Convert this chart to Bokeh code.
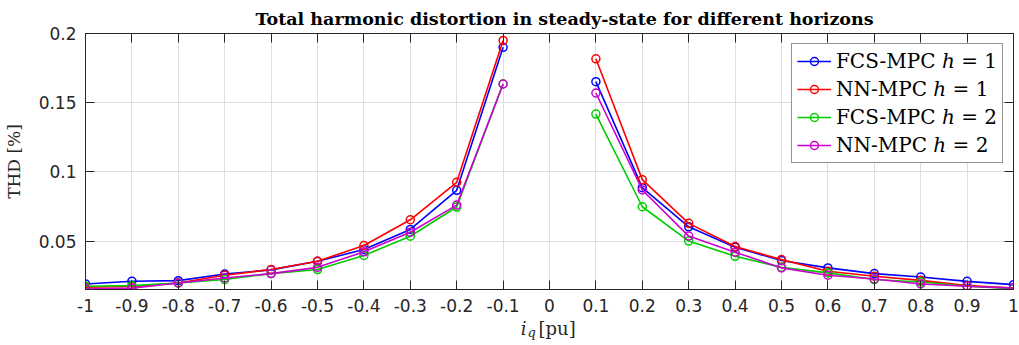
from bokeh.plotting import figure
from bokeh.layouts import column
from bokeh.models import Range1d, FixedTicker, LinearAxis
from bokeh.core.properties import value
from bokeh.embed import file_html
from bokeh.resources import INLINE

NAN = float("nan")

# ---- data ----
iq = [-1.0, -0.9, -0.8, -0.7, -0.6, -0.5, -0.4, -0.3, -0.2, -0.1, 0.0,
      0.1, 0.2, 0.3, 0.4, 0.5, 0.6, 0.7, 0.8, 0.9, 1.0]

thd_fcs_h1 = [0.0190, 0.0210, 0.0214, 0.0262, 0.0292, 0.0354, 0.0439, 0.0584, 0.0867, 0.1900, NAN,
              0.1652, 0.0886, 0.0603, 0.0455, 0.0359, 0.0306, 0.0265, 0.0240, 0.0209, 0.0185]
thd_nn_h1 = [0.0166, 0.0172, 0.0197, 0.0253, 0.0294, 0.0354, 0.0468, 0.0654, 0.0925, 0.1950, NAN,
             0.1817, 0.0944, 0.0628, 0.0461, 0.0366, 0.0282, 0.0246, 0.0216, 0.0178, 0.0160]
thd_fcs_h2 = [0.0173, 0.0178, 0.0197, 0.0222, 0.0265, 0.0294, 0.0396, 0.0535, 0.0746, 0.1635, NAN,
              0.1418, 0.0748, 0.0500, 0.0390, 0.0310, 0.0270, 0.0222, 0.0204, 0.0173, 0.0155]
thd_nn_h2 = [0.0153, 0.0160, 0.0197, 0.0233, 0.0265, 0.0310, 0.0422, 0.0564, 0.0760, 0.1635, NAN,
             0.1570, 0.0869, 0.0536, 0.0420, 0.0306, 0.0253, 0.0226, 0.0190, 0.0173, 0.0160]

series_labels = ["FCS-MPC \u210e = 1", "NN-MPC \u210e = 1", "FCS-MPC \u210e = 2", "NN-MPC \u210e = 2"]
series_colors = ["#0000ff", "#ff0000", "#00cc00", "#cc00cc"]

x_ticks = [-1.0, -0.9, -0.8, -0.7, -0.6, -0.5, -0.4, -0.3, -0.2, -0.1, 0.0,
           0.1, 0.2, 0.3, 0.4, 0.5, 0.6, 0.7, 0.8, 0.9, 1.0]
x_tick_labels = ["-1", "-0.9", "-0.8", "-0.7", "-0.6", "-0.5", "-0.4", "-0.3", "-0.2", "-0.1", "0",
                 "0.1", "0.2", "0.3", "0.4", "0.5", "0.6", "0.7", "0.8", "0.9", "1"]
y_ticks = [0.05, 0.1, 0.15, 0.2]
y_tick_labels = ["0.05", "0.1", "0.15", "0.2"]

title_text = "Total harmonic distortion in steady-state for different horizons"
y_label = "THD [%]"
x_label_var, x_label_sub, x_label_unit = "i", "q", "[pu]"

X_LO, X_HI = -1.0, 1.0
AX = "#262626"
GRID = "#dfdfdf"
SERIF = "DejaVu Serif"
SANS = "DejaVu Sans"

W = 1019
ML, MR = 85, 6
FW = W - ML - MR
H_MAIN, H_LAB = 318, 27

p = figure(width=W, height=H_MAIN, output_backend="svg", toolbar_location=None,
           x_range=Range1d(X_LO, X_HI), y_range=Range1d(0.015, 0.2),
           min_border_left=ML, min_border_right=MR, min_border_top=33, min_border_bottom=29,
           title=title_text)

p.title.text_font = SERIF
p.title.text_font_style = "bold"
p.title.text_font_size = "17.5px"
p.title.align = "left"
p.title.offset = 170
p.title.text_color = "black"

p.background_fill_color = "white"
p.border_fill_color = "white"
p.outline_line_color = AX

# bottom / left axes
p.xaxis.ticker = FixedTicker(ticks=x_ticks)
p.xaxis.major_label_overrides = dict(zip(x_ticks, x_tick_labels))
p.yaxis.ticker = FixedTicker(ticks=y_ticks)
p.yaxis.major_label_overrides = dict(zip(y_ticks, y_tick_labels))
for ax in (p.xaxis, p.yaxis):
    ax.major_tick_in = 9
    ax.major_tick_out = 0
    ax.minor_tick_line_color = None
    ax.axis_line_color = AX
    ax.major_tick_line_color = AX
    ax.major_label_text_font = SANS
    ax.major_label_text_font_size = "17px"
    ax.major_label_text_color = AX
    ax.major_label_standoff = 9
p.yaxis.axis_label = y_label
p.yaxis.axis_label_text_font = SERIF
p.yaxis.axis_label_text_font_style = "normal"
p.yaxis.axis_label_text_font_size = "17px"
p.yaxis.axis_label_text_color = AX
p.yaxis.axis_label_standoff = 12

# box axes (top / right): ticks only, no labels drawn
top_ax = LinearAxis(ticker=FixedTicker(ticks=x_ticks), major_label_text_color=None,
                    major_label_text_font_size="1px",
                    major_label_standoff=0, major_tick_in=9, major_tick_out=0,
                    minor_tick_line_color=None, axis_line_color=AX, major_tick_line_color=AX)
right_ax = LinearAxis(ticker=FixedTicker(ticks=y_ticks), major_label_text_color=None,
                      major_label_text_font_size="1px",
                      major_label_standoff=0, major_tick_in=9, major_tick_out=0,
                      minor_tick_line_color=None, axis_line_color=AX, major_tick_line_color=AX)
p.add_layout(top_ax, "above")
p.add_layout(right_ax, "right")

p.xgrid.ticker = FixedTicker(ticks=x_ticks)
p.ygrid.ticker = FixedTicker(ticks=y_ticks)
p.xgrid.grid_line_color = GRID
p.ygrid.grid_line_color = GRID

for ys, lab, col in zip([thd_fcs_h1, thd_nn_h1, thd_fcs_h2, thd_nn_h2], series_labels, series_colors):
    p.line(iq, ys, line_color=col, line_width=1.6, legend_label=lab)
    p.scatter(iq, ys, marker="circle", size=8, line_color=col, line_width=1.5,
              fill_color=None, legend_label=lab)

lg = p.legend[0]
lg.location = "top_right"
lg.margin = 10
lg.padding = 5
lg.spacing = 4
lg.glyph_width = 34
lg.glyph_height = 20
lg.label_height = 20
lg.label_standoff = 5
lg.label_text_font = SERIF
lg.label_text_font_size = "20px"
lg.label_text_color = "black"
lg.border_line_color = AX
lg.border_line_width = 1
lg.background_fill_alpha = 1.0

# ---- x-axis label strip:  i_q [pu]  (its frame is aligned with the chart's frame) ----
def px_to_x(px):
    return X_LO + (px - ML) * (X_HI - X_LO) / FW

q = figure(width=W, height=H_LAB, output_backend="svg", toolbar_location=None,
           x_range=p.x_range, y_range=Range1d(0, H_LAB),
           x_axis_type=None, y_axis_type=None,
           min_border=0, min_border_left=ML, min_border_right=MR,
           min_border_top=0, min_border_bottom=0)
q.outline_line_color = None
q.background_fill_color = "white"
q.border_fill_color = "white"
q.grid.visible = False
q.text(x=[px_to_x(526)], y=[17], text=[x_label_var], text_font=value(SERIF), text_font_style="italic",
       text_font_size="18px", text_color=AX, text_baseline="alphabetic", text_align="right")
q.text(x=[px_to_x(527)], y=[13], text=[x_label_sub], text_font=value(SERIF), text_font_style="italic",
       text_font_size="13px", text_color=AX, text_baseline="alphabetic", text_align="left")
q.text(x=[px_to_x(538)], y=[17], text=[x_label_unit], text_font=value(SERIF),
       text_font_size="18px", text_color=AX, text_baseline="alphabetic", text_align="left")

layout = column(p, q, spacing=0)
open("out.html", "w").write(file_html(layout, INLINE))
